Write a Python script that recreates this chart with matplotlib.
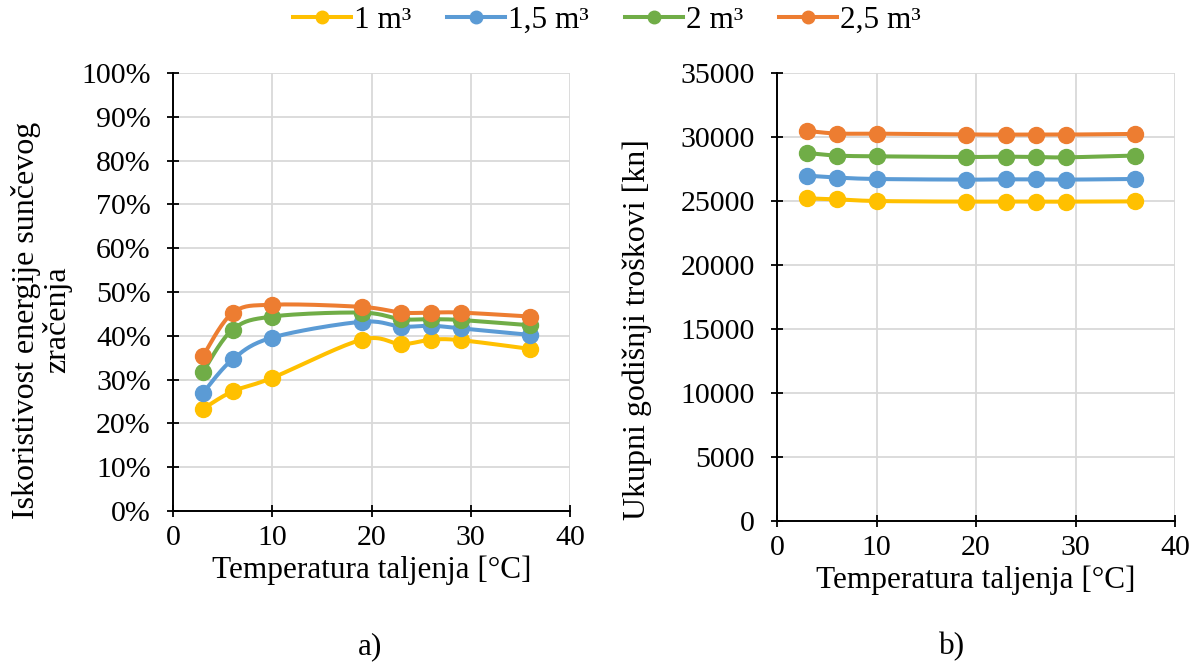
import numpy as np
import matplotlib
matplotlib.use("Agg")
import matplotlib.pyplot as plt
from matplotlib.lines import Line2D

plt.rcParams['font.family'] = ['Liberation Serif', 'DejaVu Serif']

temps = [3, 6, 10, 19, 23, 26, 29, 36]
series_names = ['1 m³', '1,5 m³', '2 m³', '2,5 m³']
colors = ['#FFC000', '#5B9BD5', '#70AD47', '#ED7D31']

eff_1 = [23.3, 27.3, 30.4, 39.1, 38.1, 39.1, 39.0, 37.0]
eff_15 = [26.9, 34.6, 39.6, 43.2, 42.1, 42.3, 41.7, 40.2]
eff_2 = [31.7, 41.4, 44.4, 45.3, 43.8, 43.8, 43.6, 42.4]
eff_25 = [35.3, 45.2, 47.1, 46.6, 45.3, 45.3, 45.3, 44.4]

cost_1 = [25210, 25130, 25000, 24950, 24960, 24950, 24950, 24970]
cost_15 = [26980, 26830, 26720, 26670, 26690, 26690, 26670, 26720]
cost_2 = [28760, 28550, 28490, 28440, 28460, 28440, 28410, 28550]
cost_25 = [30480, 30270, 30260, 30190, 30190, 30190, 30190, 30240]

eff = [eff_1, eff_15, eff_2, eff_25]
cost = [cost_1, cost_15, cost_2, cost_25]


def smooth(x, y, n=20):
    # Bezier smoothing between data points (like Excel smoothed lines)
    x = np.asarray(x, float)
    y = np.asarray(y, float)
    xs, ys = [], []
    t = np.linspace(0, 1, n)
    N = len(x)
    for i in range(N - 1):
        p0 = np.array([x[i], y[i]])
        p1 = np.array([x[i + 1], y[i + 1]])
        pm = np.array([x[i - 1], y[i - 1]]) if i > 0 else p0
        pp = np.array([x[i + 2], y[i + 2]]) if i + 2 < N else p1
        tau = 1 / 6
        c1 = p0 + (p1 - pm) * tau
        c2 = p1 - (pp - p0) * tau
        seg = ((1 - t) ** 3)[:, None] * p0 + (3 * (1 - t) ** 2 * t)[:, None] * c1 \
            + (3 * (1 - t) * t ** 2)[:, None] * c2 + (t ** 3)[:, None] * p1
        xs.append(seg[:, 0])
        ys.append(seg[:, 1])
    return np.concatenate(xs), np.concatenate(ys)


W, H = 1199, 662
fig = plt.figure(figsize=(W / 100, H / 100), dpi=100)
axL = fig.add_axes([173 / W, 1 - 511 / H, (570 - 173) / W, (511 - 73) / H])
axR = fig.add_axes([777 / W, 1 - 521 / H, (1175 - 777) / W, (521 - 73) / H])

FS_T = 21.5
FS_L = 22.5
for ax, data, ylim in [(axL, eff, (0, 100)), (axR, cost, (0, 35000))]:
    for vals, col in zip(data, colors):
        xs, ys = smooth(temps, vals)
        ax.plot(xs, ys, color=col, lw=2.9, zorder=3, solid_capstyle='round')
        ax.plot(temps, vals, 'o', color=col, ms=11.5, zorder=4)
    ax.set_xlim(0, 40)
    ax.set_ylim(*ylim)
    ax.set_xticks([0, 10, 20, 30, 40])
    ax.grid(True, color='#d9d9d9', lw=1.3, zorder=0)
    ax.set_axisbelow(True)
    for s in ['top', 'right']:
        ax.spines[s].set_visible(False)
    for s in ['left', 'bottom']:
        ax.spines[s].set_color('black')
        ax.spines[s].set_linewidth(1.4)
    ax.tick_params(axis='both', labelsize=FS_T, direction='inout', length=8, width=1.3, colors='black')
    ax.tick_params(axis='x', pad=6)
    ax.tick_params(axis='y', pad=12)
    ax.set_xlabel('Temperatura taljenja [°C]', fontsize=FS_L, labelpad=3)

axL.set_yticks(np.arange(0, 101, 10))
axL.set_yticklabels([f'{v}%' for v in range(0, 101, 10)])
axR.set_yticks(np.arange(0, 35001, 5000))

fig.text(42 / W, 1 - 320 / H, 'Iskoristivost energije sunčevog\nzračenja', fontsize=23,
         rotation=90, ha='center', va='center', linespacing=1.05, multialignment='center')
fig.text(637 / W, 1 - 330 / H, 'Ukupni godišnji troškovi [kn]', fontsize=23,
         rotation=90, ha='center', va='center')

fig.text(370 / W, 1 - 647 / H, 'a)', fontsize=FS_L, ha='center', va='center')
fig.text(952 / W, 1 - 647 / H, 'b)', fontsize=FS_L, ha='center', va='center')

handles = [Line2D([0], [0], color=c, lw=2.9, marker='o', ms=9) for c in colors]
fig.legend(handles, series_names, loc='center', bbox_to_anchor=(607 / W, 1 - 20 / H), ncol=4,
           frameon=False, fontsize=FS_L, handlelength=1.85, handletextpad=0.1, columnspacing=1.15)

fig.savefig('out.png', dpi=100)
